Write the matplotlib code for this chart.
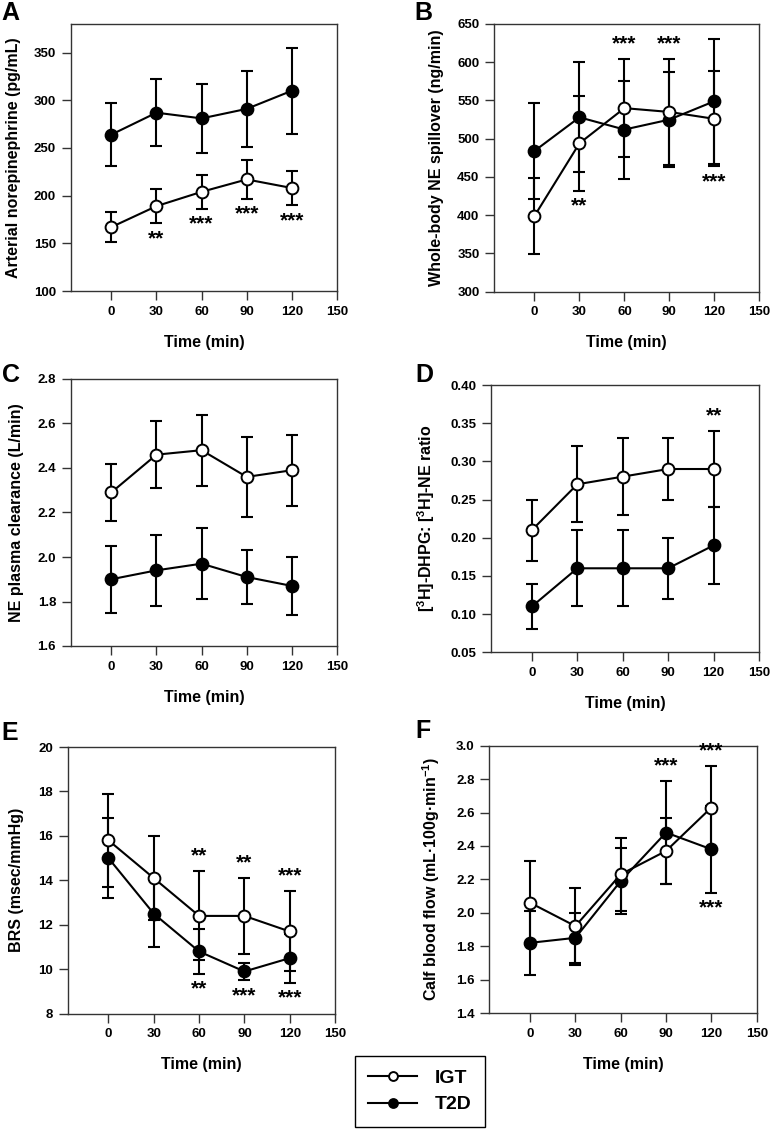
import numpy as np
import matplotlib
matplotlib.use('Agg')
import matplotlib.pyplot as plt
from matplotlib.ticker import FormatStrFormatter

plt.rcParams['font.family'] = ['Liberation Sans', 'DejaVu Sans']
plt.rcParams['font.weight'] = 'bold'
plt.rcParams['mathtext.fontset'] = 'custom'
plt.rcParams['mathtext.rm'] = 'Liberation Sans:bold'
plt.rcParams['mathtext.bf'] = 'Liberation Sans:bold'
plt.rcParams['mathtext.it'] = 'Liberation Sans:bold'

time = [0, 30, 60, 90, 120]
xticks = [0, 30, 60, 90, 120, 150]

# A - arterial NE
igt_ne = [167, 189, 204, 217, 208]
igt_ne_err = [16, 18, 18, 20, 18]
t2d_ne = [264, 287, 281, 291, 310]
t2d_ne_err = [33, 35, 36, 40, 45]

# B - whole-body spillover
igt_spill = [399, 494, 540, 535, 526]
igt_spill_err = [50, 62, 64, 69, 62]
t2d_spill = [484, 528, 512, 525, 549]
t2d_spill_err = [63, 72, 64, 62, 82]

# C - plasma clearance
igt_clr = [2.29, 2.46, 2.48, 2.36, 2.39]
igt_clr_err = [0.13, 0.15, 0.16, 0.18, 0.16]
t2d_clr = [1.90, 1.94, 1.97, 1.91, 1.87]
t2d_clr_err = [0.15, 0.16, 0.16, 0.12, 0.13]

# D - DHPG:NE ratio
igt_ratio = [0.21, 0.27, 0.28, 0.29, 0.29]
igt_ratio_err = [0.04, 0.05, 0.05, 0.04, 0.05]
t2d_ratio = [0.11, 0.16, 0.16, 0.16, 0.19]
t2d_ratio_err = [0.03, 0.05, 0.05, 0.04, 0.05]

# E - BRS
igt_brs = [15.8, 14.1, 12.4, 12.4, 11.7]
igt_brs_err = [2.1, 1.9, 2.0, 1.7, 1.8]
t2d_brs = [15.0, 12.5, 10.8, 9.9, 10.5]
t2d_brs_err = [1.8, 1.5, 1.0, 0.4, 1.1]

# F - calf blood flow
igt_cbf = [2.06, 1.92, 2.23, 2.37, 2.63]
igt_cbf_err = [0.25, 0.23, 0.22, 0.20, 0.25]
t2d_cbf = [1.82, 1.85, 2.19, 2.48, 2.38]
t2d_cbf_err = [0.19, 0.15, 0.20, 0.31, 0.26]

# significance marks: (time, group, side, text)
stars_a = [(30, 'igt', -1, '**'), (60, 'igt', -1, '***'), (90, 'igt', -1, '***'), (120, 'igt', -1, '***')]
stars_b = [(30, 'igt', -1, '**'), (60, 'igt', 1, '***'), (90, 'igt', 1, '***'), (120, 'igt', -1, '***')]
stars_c = []
stars_d = [(120, 'igt', 1, '**')]
stars_e = [(60, 'igt', 1, '**'), (60, 't2d', -1, '**'), (90, 'igt', 1, '**'),
           (90, 't2d', -1, '***'), (120, 'igt', 1, '***'), (120, 't2d', -1, '***')]
stars_f = [(90, 't2d', 1, '***'), (120, 'igt', 1, '***'), (120, 't2d', -1, '***')]

yticks_a = [100, 150, 200, 250, 300, 350]
yticks_b = [300, 350, 400, 450, 500, 550, 600, 650]
yticks_c = [1.6, 1.8, 2.0, 2.2, 2.4, 2.6, 2.8]
yticks_d = [0.05, 0.10, 0.15, 0.20, 0.25, 0.30, 0.35, 0.40]
yticks_e = [8, 10, 12, 14, 16, 18, 20]
yticks_f = [1.4, 1.6, 1.8, 2.0, 2.2, 2.4, 2.6, 2.8, 3.0]

W, H = 772, 1132


def rect(l, t, r, b):
    return [l / W, 1 - b / H, (r - l) / W, (b - t) / H]


panels = [
    dict(letter='A', pos=(70.7, 24, 337, 291), lp=(1, 20), ylim=(100, 380), yticks=yticks_a, fmt='%d',
         ylabel='Arterial norepinephrine (pg/mL)', ylx=-0.185,
         igt=(igt_ne, igt_ne_err), t2d=(t2d_ne, t2d_ne_err), stars=stars_a),
    dict(letter='B', pos=(494, 24, 759.3, 291.7), lp=(414, 20), ylim=(300, 650), yticks=yticks_b, fmt='%d',
         ylabel='Whole-body NE spillover (ng/min)', ylx=-0.19,
         igt=(igt_spill, igt_spill_err), t2d=(t2d_spill, t2d_spill_err), stars=stars_b),
    dict(letter='C', pos=(70.7, 379, 337, 646), lp=(1.7, 381.7), ylim=(1.6, 2.8), yticks=yticks_c, fmt='%.1f',
         ylabel='NE plasma clearance (L/min)', ylx=-0.177,
         igt=(igt_clr, igt_clr_err), t2d=(t2d_clr, t2d_clr_err), stars=stars_c),
    dict(letter='D', pos=(491, 385, 759, 652.3), lp=(415, 381.7), ylim=(0.05, 0.40), yticks=yticks_d, fmt='%.2f',
         ylabel=r'[$^3$H]-DHPG: [$^3$H]-NE ratio', ylx=-0.202,
         igt=(igt_ratio, igt_ratio_err), t2d=(t2d_ratio, t2d_ratio_err), stars=stars_d),
    dict(letter='E', pos=(67.7, 747, 335, 1013.7), lp=(1.7, 740), ylim=(8, 20), yticks=yticks_e, fmt='%d',
         ylabel='BRS (msec/mmHg)', ylx=-0.162,
         igt=(igt_brs, igt_brs_err), t2d=(t2d_brs, t2d_brs_err), stars=stars_e),
    dict(letter='F', pos=(489.3, 745.7, 756.7, 1013), lp=(415, 738.3), ylim=(1.4, 3.0), yticks=yticks_f, fmt='%.1f',
         ylabel=r'Calf blood flow (mL·100g·min$^{-1}$)', ylx=-0.178,
         igt=(igt_cbf, igt_cbf_err), t2d=(t2d_cbf, t2d_cbf_err), stars=stars_f),
]

fig = plt.figure(figsize=(W / 100, H / 100), dpi=100)
spine_col = '#333333'
handles = None

for p in panels:
    ax = fig.add_axes(rect(*p['pos']))
    groups = {'t2d': ('black', 3), 'igt': ('white', 4)}
    lines = {}
    for g in ['t2d', 'igt']:
        m, e = p[g]
        ax.errorbar(time, m, yerr=e, fmt='none', ecolor='black', elinewidth=1.5,
                    capsize=4, capthick=1.5, zorder=2)
        face, z = groups[g]
        ln, = ax.plot(time, m, color='black', lw=1.5, marker='o', ms=8.5,
                      mfc=face, mec='black', mew=1.4, zorder=z)
        lines[g] = ln
    for t, g, side, txt in p['stars']:
        i = time.index(t)
        m, e = p[g]
        ax.annotate(txt, xy=(t, m[i] + side * e[i]), xytext=(0, side * 11),
                    textcoords='offset points', ha='center', va='center',
                    fontsize=15, fontweight='bold')
    if handles is None:
        handles = [lines['igt'], lines['t2d']]

    ax.set_xlim(-27, 150)
    ax.set_ylim(*p['ylim'])
    ax.set_xticks(xticks)
    ax.set_yticks(p['yticks'])
    ax.yaxis.set_major_formatter(FormatStrFormatter(p['fmt']))
    ax.tick_params(direction='out', length=6.5, width=1, color=spine_col,
                   labelsize=9.5, pad=4)
    for s in ax.spines.values():
        s.set_color(spine_col)
        s.set_linewidth(1)
    ax.set_xlabel('Time (min)', fontsize=11.5, fontweight='bold')
    ax.xaxis.set_label_coords(0.5, -0.163)
    ax.set_ylabel(p['ylabel'], fontsize=11.5, fontweight='bold')
    ax.yaxis.set_label_coords(p['ylx'], 0.5)
    fig.text(p['lp'][0] / W, 1 - p['lp'][1] / H, p['letter'], fontsize=18,
             fontweight='bold', ha='left', va='baseline')

fig.legend(handles, ['IGT', 'T2D'], loc='center',
           bbox_to_anchor=(419.7 / W, 1 - 1091.5 / H), frameon=True, fancybox=False,
           edgecolor='black', framealpha=1, prop={'weight': 'bold', 'size': 14},
           handlelength=2.5, handletextpad=0.9, markerscale=0.75, borderpad=0.7,
           labelspacing=0.45)

fig.savefig('out.png', dpi=100)
